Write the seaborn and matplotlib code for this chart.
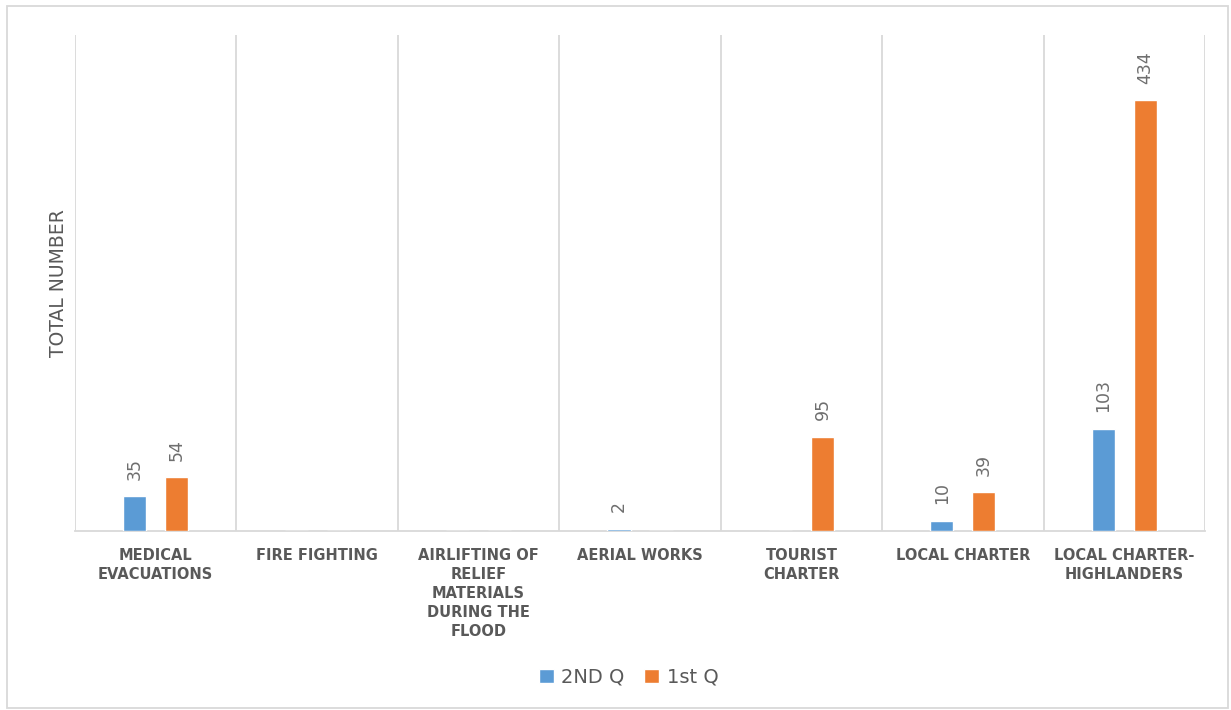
import numpy as np
import pandas as pd
import matplotlib
matplotlib.use("Agg")
import matplotlib.pyplot as plt
import seaborn as sns
from matplotlib.patches import Rectangle

# chart data
categories = ["MEDICAL\nEVACUATIONS", "FIRE FIGHTING",
              "AIRLIFTING OF\nRELIEF\nMATERIALS\nDURING THE\nFLOOD",
              "AERIAL WORKS", "TOURIST\nCHARTER", "LOCAL CHARTER",
              "LOCAL CHARTER-\nHIGHLANDERS"]
q2_values = [35, 0, 0, 2, 0, 10, 103]
q1_values = [54, 0, 0, 0, 95, 39, 434]
series = ["2ND Q", "1st Q"]

df = pd.DataFrame({
    "category": categories * 2,
    "quarter": [series[0]] * len(categories) + [series[1]] * len(categories),
    "count": q2_values + q1_values,
})

text_gray = "#595959"
grid_gray = "#D9D9D9"
palette = {"2ND Q": "#5B9BD5", "1st Q": "#ED7D31"}

sns.set_style("white")
fig = plt.figure(figsize=(12.31, 7.10), dpi=100)
ax = fig.add_axes([0.0609, 0.2521, 0.9180, 0.6986])

sns.barplot(data=df, x="category", y="count", hue="quarter",
            hue_order=series, order=categories, palette=palette,
            width=0.52, gap=0.45, ax=ax, legend=True, saturation=1,
            zorder=3)

# value labels (skip zeros)
for cont in ax.containers:
    labels = [f"{v:g}" if v > 0 else "" for v in cont.datavalues]
    ax.bar_label(cont, labels=labels, rotation=90, padding=12,
                 color="#6E6E6E", fontsize=12.5)

ax.set_xlim(-0.5, len(categories) - 0.5)
ax.set_ylim(0, 500)
ax.set_yticks([])
ax.set_xlabel("")
ax.set_ylabel("TOTAL NUMBER", color=text_gray, fontsize=13.5, labelpad=5)

# vertical gridlines between categories
ax.set_xticks(np.arange(-0.5, len(categories), 1), minor=True)
ax.grid(which="minor", axis="x", color=grid_gray, linewidth=1.3)
ax.tick_params(axis="x", which="both", length=0, pad=12)
for lbl in ax.get_xticklabels():
    lbl.set_fontweight("bold")
    lbl.set_fontsize(10.5)
    lbl.set_color(text_gray)
    lbl.set_linespacing(1.35)

for s in ["top", "right", "left"]:
    ax.spines[s].set_visible(False)
ax.spines["bottom"].set_color(grid_gray)
ax.spines["bottom"].set_linewidth(1.3)

leg = ax.legend(loc="center", bbox_to_anchor=(0.49, -0.295), ncol=2,
                frameon=False, fontsize=14, handlelength=0.75,
                handleheight=0.75, columnspacing=1.0, handletextpad=0.4)
for t in leg.get_texts():
    t.set_color(text_gray)

# outer chart border
fig.patches.append(Rectangle((0.0057, 0.003), 0.992, 0.989,
                             transform=fig.transFigure, fill=False,
                             edgecolor=grid_gray, linewidth=1.3))

fig.savefig("out.png", dpi=100)
